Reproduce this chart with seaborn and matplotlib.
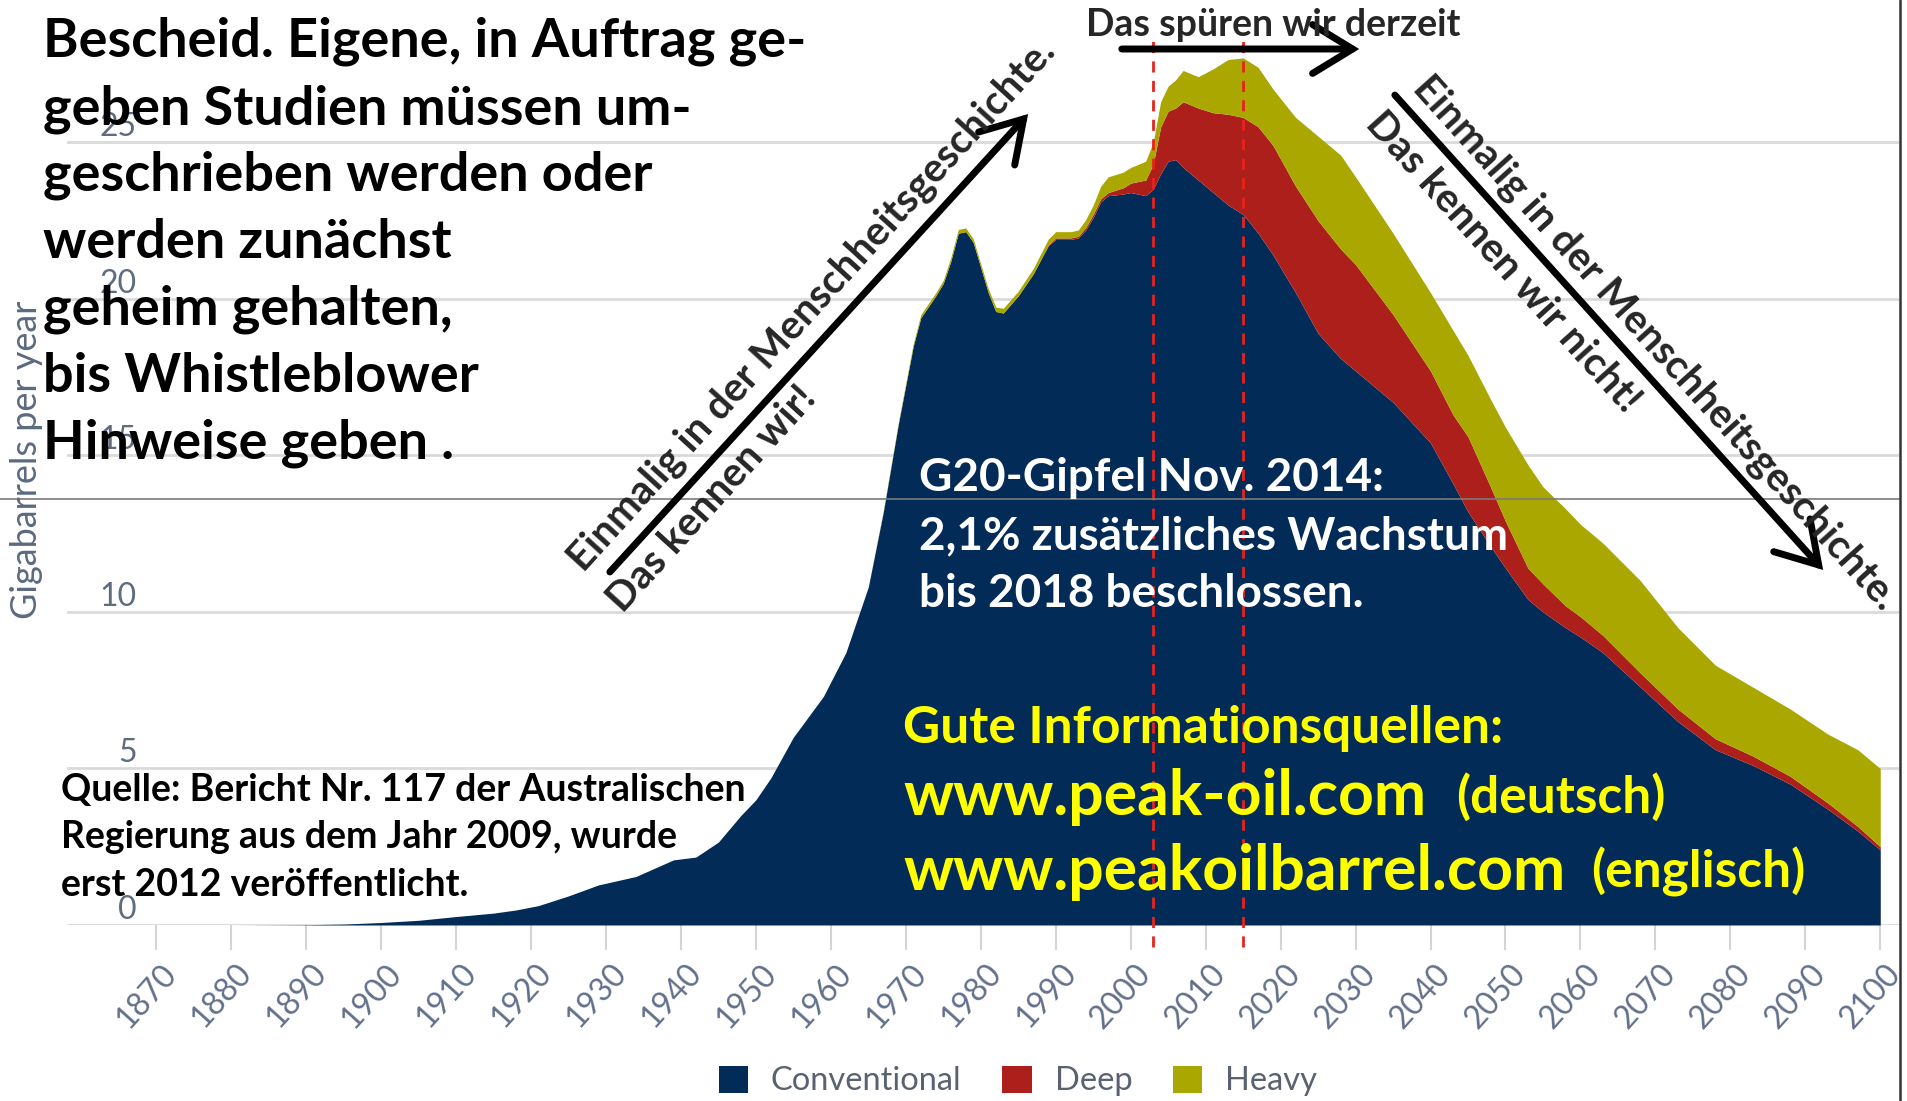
import matplotlib
matplotlib.use("Agg")
import matplotlib.pyplot as plt
import seaborn as sns
from matplotlib.lines import Line2D
from matplotlib.patches import FancyArrowPatch
from matplotlib.transforms import ScaledTranslation

# Daten (Gigabarrels pro Jahr)
years = [1870, 1880, 1890, 1895, 1900, 1905, 1910, 1915, 1918, 1921,
         1925, 1929, 1934, 1939, 1942, 1945, 1948, 1950, 1952, 1955,
         1959, 1962, 1965, 1967, 1969, 1971, 1972, 1974, 1975, 1976,
         1977, 1978, 1979, 1980, 1981, 1982, 1983, 1985, 1987, 1989,
         1990, 1992, 1993, 1994, 1995, 1996, 1997, 1999, 2000, 2002,
         2003, 2004, 2005, 2006, 2007, 2009, 2011, 2013, 2015, 2017,
         2019, 2022, 2025, 2028, 2030, 2035, 2040, 2043, 2045, 2048,
         2050, 2053, 2055, 2058, 2060, 2063, 2068, 2073, 2078, 2083,
         2088, 2093, 2097, 2100]

conventional = [0.0, 0.0, 0.01, 0.03, 0.08, 0.15, 0.27, 0.38, 0.48, 0.62,
                0.93, 1.28, 1.55, 2.08, 2.17, 2.65, 3.5, 4.0, 4.7, 6.0,
                7.3, 8.7, 10.8, 13.2, 16.0, 18.5, 19.4, 20.1, 20.5, 21.2,
                22.1, 22.15, 21.8, 21.0, 20.2, 19.6, 19.55, 20.1, 20.8, 21.7,
                21.9, 21.9, 21.95, 22.2, 22.6, 23.1, 23.3, 23.35, 23.4, 23.3,
                23.5, 24.0, 24.4, 24.45, 24.2, 23.8, 23.4, 23.0, 22.7, 22.1,
                21.4, 20.2, 18.9, 18.1, 17.7, 16.7, 15.4, 14.1, 13.2, 12.1,
                11.4, 10.4, 10.0, 9.5, 9.2, 8.7, 7.6, 6.5, 5.6, 5.1,
                4.5, 3.7, 3.0, 2.4]

deep = [0, 0, 0, 0, 0, 0, 0, 0, 0, 0,
        0, 0, 0, 0, 0, 0, 0, 0, 0, 0,
        0, 0, 0, 0, 0, 0, 0, 0, 0, 0,
        0, 0, 0, 0, 0, 0, 0, 0, 0, 0.02,
        0.05, 0.05, 0.05, 0.08, 0.1, 0.1, 0.1, 0.2, 0.3, 0.5,
        0.8, 1.5, 1.6, 1.65, 2.1, 2.3, 2.55, 2.9, 3.1, 3.4,
        3.5, 3.4, 3.6, 3.5, 3.4, 2.8, 2.3, 2.2, 2.4, 1.9,
        1.5, 1.0, 0.9, 0.7, 0.65, 0.55, 0.45, 0.4, 0.35, 0.3,
        0.25, 0.2, 0.15, 0.1]

heavy = [0, 0, 0, 0, 0, 0, 0, 0, 0, 0,
         0, 0, 0, 0, 0, 0, 0, 0, 0, 0,
         0, 0, 0, 0.03, 0.05, 0.08, 0.1, 0.1, 0.1, 0.12,
         0.12, 0.12, 0.12, 0.12, 0.13, 0.14, 0.15, 0.15, 0.17, 0.19,
         0.2, 0.2, 0.2, 0.25, 0.3, 0.4, 0.5, 0.5, 0.5, 0.6,
         0.7, 0.8, 0.8, 0.9, 1.0, 1.0, 1.4, 1.75, 1.9, 1.9,
         1.8, 2.2, 2.7, 3.0, 2.8, 2.6, 2.5, 2.7, 2.6, 2.8,
         3.0, 3.3, 3.1, 3.1, 2.95, 2.95, 2.95, 2.6, 2.35, 2.2,
         2.15, 2.2, 2.45, 2.5]

series_labels = ["Conventional", "Deep", "Heavy"]
series_colors = ["#032b57", "#ad1f1b", "#aaa800"]
x_ticks = list(range(1870, 2101, 10))
y_ticks = [0, 5, 10, 15, 20, 25]
marker_years = [2003, 2015]

sns.set_style("white")
plt.rcParams["font.family"] = ["Lato", "DejaVu Sans"]

W, H = 1908, 1101
fig = plt.figure(figsize=(W / 100, H / 100), dpi=100)


def fx(px):
    return px / W


def fy(py):
    return 1 - py / H


ax = fig.add_axes([fx(67), fy(925), fx(1899 - 67), 925 / H])
ax.stackplot(years, conventional, deep, heavy, colors=series_colors,
             labels=series_labels, linewidth=0, zorder=2)

ax.set_xlim(1858.1, 2102.5)
ax.set_ylim(0, 29.55)
sns.despine(ax=ax, left=True, bottom=True, top=True, right=True)

ax.set_yticks(y_ticks)
ax.set_yticklabels([str(v) for v in y_ticks])
ax.yaxis.grid(True, color="#dadada", lw=2, zorder=0)
ax.xaxis.grid(False)
ax.tick_params(axis="y", length=0, pad=-50, labelsize=23, labelcolor="#5f6c80")
for lab in ax.get_yticklabels():
    lab.set_va("bottom")
    lab.set_ha("right")

ax.set_xticks(x_ticks)
ax.set_xticklabels([str(v) for v in x_ticks], rotation=48, ha="center",
                   va="top")
ax.tick_params(axis="x", length=18, width=1.5, color="#d4d4d4", pad=6,
               labelsize=23, labelcolor="#62708a", bottom=True)
shift = ScaledTranslation(-7 / 72, 0, fig.dpi_scale_trans)
for lab in ax.get_xticklabels():
    lab.set_transform(lab.get_transform() + shift)

# Markierung der Jahre mit roten Strichlinien
for yr in marker_years:
    ax.plot([yr, yr], [-0.7, 28.4], color="#e8221c", lw=2, ls=(0, (4, 3)),
            clip_on=False, zorder=5)

fig.text(fx(27), fy(460), "Gigabarrels per year", rotation=90, ha="center",
         va="center", fontsize=26, color="#5b6a80")

# Rahmenlinien aus dem Original-Screenshot
fig.add_artist(Line2D([0, fx(1899)], [fy(499), fy(499)], color="#7a7a7a", lw=1.2))
fig.add_artist(Line2D([fx(1900), fx(1900)], [0, 1], color="#333333", lw=1.8))

# Textblock oben links
block = ["Bescheid. Eigene, in Auftrag ge-",
         "geben Studien müssen um-",
         "geschrieben werden oder",
         "werden zunächst",
         "geheim gehalten,",
         "bis Whistleblower",
         "Hinweise geben ."]
for i, line in enumerate(block):
    fig.text(fx(43), fy(57 + 67 * i), line, fontsize=39, fontweight="bold",
             color="black", va="baseline", ha="left", zorder=10)

quelle = ["Quelle: Bericht Nr. 117 der Australischen",
          "Regierung aus dem Jahr 2009, wurde",
          "erst 2012 veröffentlicht."]
for i, line in enumerate(quelle):
    fig.text(fx(61), fy(790 + 47.5 * i), line, fontsize=27, fontweight="bold",
             color="black", va="center", ha="left", zorder=10)

g20 = ["G20-Gipfel Nov. 2014:",
       "2,1% zusätzliches Wachstum",
       "bis 2018 beschlossen."]
for i, line in enumerate(g20):
    fig.text(fx(919), fy(478 + 58 * i), line, fontsize=33, fontweight="bold",
             color="white", va="center", ha="left", zorder=10)

yellow = "#ffff00"
fig.text(fx(903), fy(728), "Gute Informationsquellen:", fontsize=37,
         fontweight="bold", color=yellow, va="center", zorder=10)
fig.text(fx(903), fy(797), "www.peak-oil.com", fontsize=45,
         fontweight="bold", color=yellow, va="center", zorder=10)
fig.text(fx(1456), fy(797), "(deutsch)", fontsize=37,
         fontweight="bold", color=yellow, va="center", zorder=10)
fig.text(fx(903), fy(872), "www.peakoilbarrel.com", fontsize=45,
         fontweight="bold", color=yellow, va="center", zorder=10)
fig.text(fx(1591), fy(872), "(englisch)", fontsize=37,
         fontweight="bold", color=yellow, va="center", zorder=10)


# Pfeile und Beschriftungen
def arrow(x0, y0, x1, y1):
    fig.add_artist(FancyArrowPatch(
        (fx(x0), fy(y0)), (fx(x1), fy(y1)), transform=fig.transFigure,
        arrowstyle="->,head_length=0.9,head_width=0.55", mutation_scale=32,
        lw=5, color="black", capstyle="round", joinstyle="miter", zorder=10))


arrow(608, 574, 1030, 112)
arrow(1393, 93, 1825, 572)
arrow(1119, 49, 1362, 49)

fig.text(fx(812), fy(305), "Einmalig in der Menschheitsgeschichte.",
         rotation=47.7, fontsize=29, fontweight="bold", ha="center",
         va="center", rotation_mode="anchor", zorder=10)
fig.text(fx(712), fy(499), "Das kennen wir!", rotation=47.7, fontsize=29,
         fontweight="bold", ha="center", va="center", rotation_mode="anchor",
         zorder=10)
fig.text(fx(1655), fy(343), "Einmalig in der Menschheitsgeschichte.",
         rotation=-48, fontsize=29, fontweight="bold", ha="center",
         va="center", rotation_mode="anchor", zorder=10)
fig.text(fx(1503), fy(262), "Das kennen wir nicht!", rotation=-48,
         fontsize=29, fontweight="bold", ha="center", va="center",
         rotation_mode="anchor", zorder=10)
fig.text(fx(1273), fy(25), "Das spüren wir derzeit", fontsize=27,
         fontweight="bold", ha="center", va="center", zorder=10)

handles, labels = ax.get_legend_handles_labels()
fig.legend(handles, labels, loc="center", bbox_to_anchor=(fx(1018), fy(1081)),
           ncol=3, frameon=False, fontsize=23.5, labelcolor="#5a6272",
           handlelength=0.9, handleheight=0.9, handletextpad=0.7,
           columnspacing=1.25)

fig.savefig("out.png", dpi=100)
